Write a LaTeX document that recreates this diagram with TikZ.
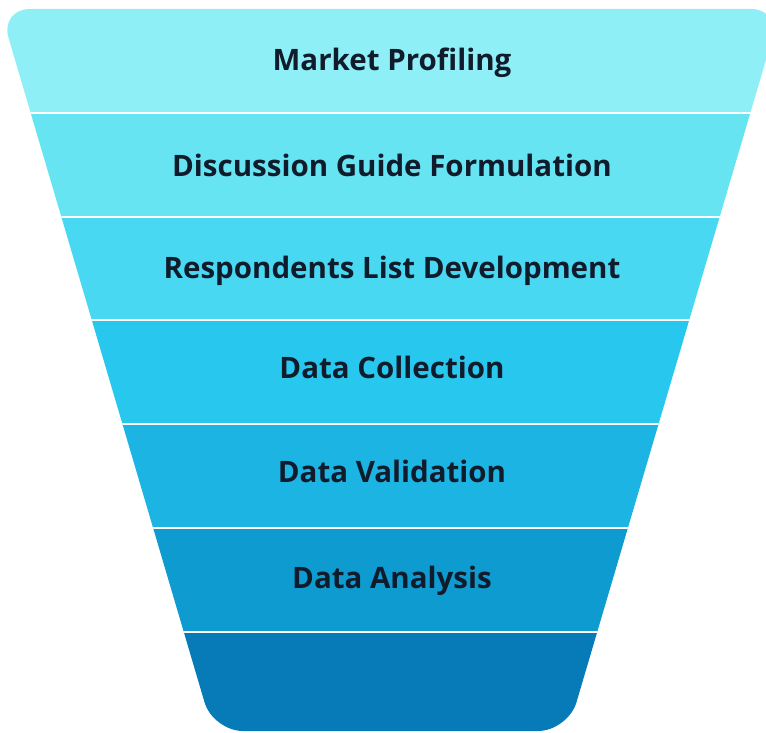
\documentclass[tikz,border=0pt]{standalone}
\usepackage{fontspec}
\setmainfont{Open Sans}
\usetikzlibrary{positioning}

\definecolor{bandA}{HTML}{8EF0F6}
\definecolor{bandB}{HTML}{66E4F2}
\definecolor{bandC}{HTML}{48D8F2}
\definecolor{bandD}{HTML}{28C8EE}
\definecolor{bandE}{HTML}{1BB4E3}
\definecolor{bandF}{HTML}{0E9BD0}
\definecolor{bandG}{HTML}{067BB8}
\definecolor{inkdark}{HTML}{101C2C}

\begin{document}
\begin{tikzpicture}[x=1pt,y=-1pt,
    stagetext/.style={font=\bfseries\fontsize{29.5}{30}\selectfont, text=inkdark, anchor=base}]

\useasboundingbox (0,0) rectangle (766,733);

% Funnel body, clipped to the rounded trapezoid
\begin{scope}
\clip[rounded corners=30pt] (0,9) -- (781,9) -- (568,731) -- (213,731) -- cycle;
\fill[bandA] (0,0) rectangle (790,113);
\fill[bandB] (0,113) rectangle (790,217);
\fill[bandC] (0,217) rectangle (790,320);
\fill[bandD] (0,320) rectangle (790,424);
\fill[bandE] (0,424) rectangle (790,528);
\fill[bandF] (0,528) rectangle (790,632);
\fill[bandG] (0,632) rectangle (790,740);

% Separators between the stages
\foreach \y in {113,217,320,424,528,632}
  \draw[white, line width=2pt] (0,\y) -- (790,\y);
\end{scope}

% Stage labels
\node[stagetext] (profiling) at (392,71) {Market Profiling};
\node[stagetext] (guide) at (392,176) {Discussion Guide Formulation};
\node[stagetext] (respondents) at (392,278) {Respondents List Development};
\node[stagetext] (collection) at (392,378) {Data Collection};
\node[stagetext] (validation) at (392,482) {Data Validation};
\node[stagetext] (analysis) at (392,588) {Data Analysis};

\end{tikzpicture}
\end{document}
